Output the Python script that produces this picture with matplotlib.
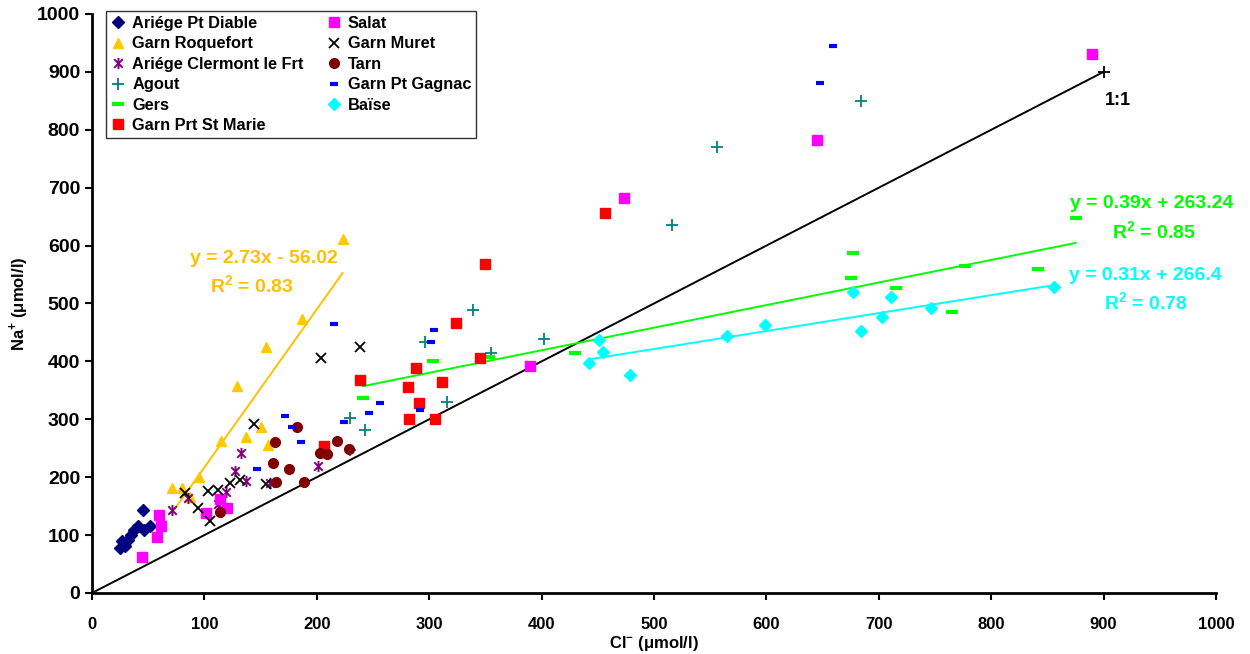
"""
Na+ vs Cl- scatter for the river sampling sites, with 1:1 line and trendlines.
"""

import numpy as np
import matplotlib
matplotlib.use("Agg")
import matplotlib.pyplot as plt
from matplotlib.path import Path

plt.rcParams['font.family'] = ['Liberation Sans', 'DejaVu Sans']
plt.rcParams['mathtext.fontset'] = 'custom'
plt.rcParams['mathtext.rm'] = 'Liberation Sans'
plt.rcParams['mathtext.bf'] = 'Liberation Sans:bold'

# --- data (Cl-, Na+ in umol/l) ---
diable_cl = [25, 29, 27, 32, 35, 37, 41, 46, 52, 45]
diable_na = [78, 81, 89, 92, 100, 109, 115, 109, 115, 143]

salat_cl = [44.5, 57.5, 61, 60, 101, 114, 120, 390, 473, 645, 890]
salat_na = [62, 97, 116, 135, 138, 163, 146, 392, 683, 782, 931]

roquefort_cl = [71, 80, 87, 95, 115, 129, 137, 150, 155, 157, 187, 223]
roquefort_na = [182, 182, 166, 200, 263, 357, 270, 287, 425, 255, 474, 611]

muret_cl = [83, 94, 103, 105, 112, 123, 132, 144, 155, 204, 238]
muret_na = [172, 146, 176, 125, 178, 190, 196, 292, 188, 405, 424]

clermont_cl = [71, 85, 112, 119, 127, 133, 137, 158, 201]
clermont_na = [143, 164, 154, 175, 210, 242, 194, 190, 220]

tarn_cl = [114, 161, 163, 164, 175, 182, 189, 203, 209, 218, 229]
tarn_na = [140, 224, 261, 192, 214, 287, 192, 242, 240, 263, 248]

agout_cl = [229.5, 229.5, 243, 296, 315.5, 339, 355, 402, 516, 556, 684]
agout_na = [302, 247, 281, 434, 329, 489, 414, 439, 636, 770, 850]

gagnac_cl = [147, 172, 178, 186, 215, 224, 246, 256, 292, 302, 304, 648, 659]
gagnac_na = [214, 305, 286, 261, 465, 295, 311, 328, 316, 434, 454, 880, 945]

gers_cl = [241, 303, 353, 430, 675, 677, 715, 765, 777, 842, 875]
gers_na = [336, 401, 407, 414, 544, 588, 526, 485, 564, 559, 647]

baise_cl = [442, 451, 455, 479, 565, 599, 677, 684, 703, 711, 746, 856]
baise_na = [398, 437, 416, 377, 443, 463, 520, 452, 476, 511, 492, 529]

marie_cl = [206, 238, 281, 282, 288, 291, 305, 311, 324, 345, 350, 456]
marie_na = [254, 367, 356, 300, 388, 328, 300, 365, 467, 405, 569, 656]

# trendline coefficients (slope, intercept, R2) as printed on the chart
roquefort_fit = (2.73, -56.02, 0.83)
gers_fit = (0.39, 263.24, 0.85)
baise_fit = (0.31, 266.4, 0.78)

one_to_one = [0, 900]

# Excel-style star: x with a vertical bar
star = Path([(-1, -1), (1, 1), (-1, 1), (1, -1), (0, -1.3), (0, 1.3)],
            [Path.MOVETO, Path.LINETO, Path.MOVETO, Path.LINETO, Path.MOVETO, Path.LINETO])

gold = '#FFC000'
green = '#00FF00'
cyan = '#00FFFF'

fig = plt.figure(figsize=(12.5, 6.54), dpi=100)
ax = fig.add_axes([0.0736, 0.0933, 0.8992, 0.8853])

# 1:1 line
ax.plot(one_to_one, one_to_one, color='black', lw=1.4, marker='+', ms=8, mew=1.3,
        markevery=[1], zorder=2)

# trendlines
for xs, fit, col in [(roquefort_cl, roquefort_fit, gold), (gers_cl, gers_fit, green),
                     (baise_cl, baise_fit, cyan)]:
    xx = np.array([min(xs), max(xs)])
    ax.plot(xx, fit[0] * xx + fit[1], color=col, lw=1.4, zorder=2)

series = [
    ("Ariége Pt Diable", diable_cl, diable_na, dict(marker='D', color='#000080', ms=6)),
    ("Garn Roquefort", roquefort_cl, roquefort_na, dict(marker='^', color='#FFC800', ms=7.5)),
    ("Ariége Clermont le Frt", clermont_cl, clermont_na,
     dict(marker=star, color='#800080', ms=8, mew=1.4, mfc='none')),
    ("Agout", agout_cl, agout_na, dict(marker='+', color='#008080', ms=9, mew=1.3)),
    ("Gers", gers_cl, gers_na, dict(marker='_', color=green, ms=9, mew=3)),
    ("Garn Prt St Marie", marie_cl, marie_na, dict(marker='s', color='#FF0000', ms=7)),
    ("Salat", salat_cl, salat_na, dict(marker='s', color='#FF00FF', ms=7)),
    ("Garn Muret", muret_cl, muret_na, dict(marker='x', color='black', ms=7, mew=1.3)),
    ("Tarn", tarn_cl, tarn_na, dict(marker='o', color='#800000', ms=7)),
    ("Garn Pt Gagnac", gagnac_cl, gagnac_na, dict(marker='_', color='#0000FF', ms=6, mew=3)),
    ("Baïse", baise_cl, baise_na, dict(marker='D', color=cyan, ms=6)),
]

for label, xs, ys, style in series:
    ax.plot(xs, ys, linestyle='none', label=label, zorder=3, **style)

ax.set_xlim(0, 1000)
ax.set_ylim(0, 1000)
ax.set_xticks(np.arange(0, 1001, 100))
ax.set_yticks(np.arange(0, 1001, 100))
for s in ['top', 'right']:
    ax.spines[s].set_visible(False)
for s in ['left', 'bottom']:
    ax.spines[s].set_linewidth(2)
ax.tick_params(axis='both', direction='out', length=5, width=1.5)
ax.tick_params(axis='y', labelsize=14)
ax.tick_params(axis='x', labelsize=12, pad=12)
for lbl in ax.get_xticklabels() + ax.get_yticklabels():
    lbl.set_fontweight('bold')

ax.set_xlabel(r"Cl$^{\mathbf{-}}$ ($\mathbf{\mu}$mol/l)", fontsize=12, fontweight='bold', labelpad=2)
ax.set_ylabel(r"Na$^{\mathbf{+}}$ ($\mathbf{\mu}$mol/l)", fontsize=12, fontweight='bold', labelpad=5)

# equations
ax.text(153, 578, f"y = {roquefort_fit[0]}x - {abs(roquefort_fit[1])}", color=gold,
        fontsize=14, fontweight='bold', ha='center', va='center')
ax.text(142, 531, f"R$^{{\\mathbf{{2}}}}$ = {roquefort_fit[2]}", color=gold,
        fontsize=14, fontweight='bold', ha='center', va='center')
ax.text(943, 672, f"y = {gers_fit[0]}x + {gers_fit[1]}", color=green,
        fontsize=14, fontweight='bold', ha='center', va='center')
ax.text(945, 624, f"R$^{{\\mathbf{{2}}}}$ = {gers_fit[2]}", color=green,
        fontsize=14, fontweight='bold', ha='center', va='center')
ax.text(937, 549, f"y = {baise_fit[0]}x + {baise_fit[1]}", color=cyan,
        fontsize=14, fontweight='bold', ha='center', va='center')
ax.text(938, 502, f"R$^{{\\mathbf{{2}}}}$ = {baise_fit[2]}", color=cyan,
        fontsize=14, fontweight='bold', ha='center', va='center')
ax.text(913, 851, "1:1", color='black', fontsize=13, fontweight='bold', ha='center', va='center')

leg = ax.legend(loc='upper left', ncol=2, bbox_to_anchor=(0.0125, 1.005), borderaxespad=0,
                prop={'weight': 'bold', 'size': 11.8}, frameon=True, fancybox=False,
                handlelength=0.9, handletextpad=0.4, columnspacing=1.4,
                labelspacing=0.33, borderpad=0.3, numpoints=1)
leg.get_frame().set_edgecolor('black')
leg.get_frame().set_linewidth(1.0)

fig.savefig("out.png", dpi=100)
